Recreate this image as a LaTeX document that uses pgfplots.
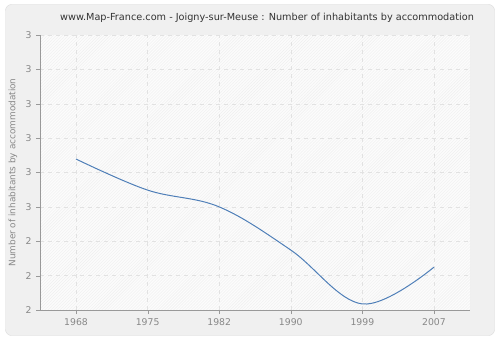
\documentclass[border=0pt]{standalone}
\usepackage{pgfplots}
\pgfplotsset{compat=1.18}
\usepackage{fontspec}
\setmainfont{DejaVu Sans}
\usetikzlibrary{patterns}
\definecolor{bgout}{HTML}{F0F0F0}
\definecolor{bord}{HTML}{DADADA}
\definecolor{plotbg}{HTML}{FCFCFC}
\definecolor{hatch}{HTML}{EFEFEF}
\definecolor{gridc}{HTML}{E2E2E2}
\definecolor{axc}{HTML}{999999}
\definecolor{labc}{HTML}{888888}
\definecolor{linec}{HTML}{4F7FB8}
\definecolor{titc}{HTML}{333333}
\begin{document}
\begin{tikzpicture}[x=1bp,y=1bp]
\fill[white] (0,0) rectangle (500,340);
\draw[bord,fill=bgout,rounded corners=6bp] (5.5,4.5) rectangle (494.5,335.5);
\fill[plotbg] (40,30) rectangle (470,305);
\fill[pattern=north east lines,pattern color=hatch] (40,30) rectangle (470,305);
\node[titc,font=\fontsize{9.7bp}{11bp}\selectfont] at (267,322) {www.Map-France.com - Joigny-sur-Meuse : Number of inhabitants by accommodation};
\begin{axis}[
  at={(40bp,30bp)}, anchor=south west,
  scale only axis, width=430bp, height=275bp,
  xmin=-0.503, xmax=5.503,
  ymin=2, ymax=3,
  axis x line*=bottom, axis y line*=left,
  axis line style={axc,-},
  xtick={0,1,2,3,4,5},
  xticklabels={1968,1975,1982,1990,1999,2007},
  ytick={2,2.125,2.25,2.375,2.5,2.625,2.75,2.875,3},
  yticklabels={2,2,2,3,3,3,3,3,3},
  tick align=outside,
  major tick length=4bp,
  tick style={axc},
  grid=major,
  major grid style={gridc,dashed,dash pattern=on 4bp off 4bp},
  ticklabel style={labc,font=\fontsize{9.3bp}{11bp}\selectfont},
  yticklabel style={xshift=-1bp},
  xticklabel style={yshift=-1bp},
  ylabel={Number of inhabitants by accommodation},
  every axis y label/.style={at={(axis description cs:-0.0628,0.5)},rotate=90,anchor=center,labc,font=\fontsize{8.9bp}{10bp}\selectfont},
  /pgf/number format/assume math mode=true,
  clip=false,
]
\addplot[linec,line width=1bp,smooth,tension=0.6] coordinates {
  (0,2.549) (1,2.436) (2,2.375) (3,2.218) (4,2.022) (5,2.156)
};
\end{axis}
\end{tikzpicture}
\end{document}
